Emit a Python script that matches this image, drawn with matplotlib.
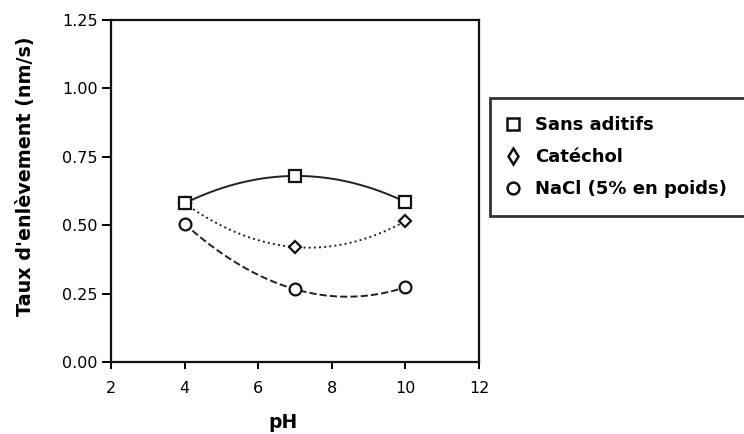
import numpy as np
from matplotlib import pyplot as plt
from matplotlib.lines import Line2D

# Taux d'enlevement en fonction du pH, pour trois solutions
ph = [4, 7, 10]
sans_aditifs = [0.58, 0.68, 0.585]
catechol = [0.58, 0.42, 0.515]
nacl = [0.505, 0.266, 0.273]

labels = ['Sans aditifs', 'Catéchol', 'NaCl (5% en poids)']
markers = ['s', 'D', 'o']
sizes = [8.5, 6, 8.5]
styles = ['-', ':', '--']
series = [sans_aditifs, catechol, nacl]

plt.rcParams['font.family'] = 'DejaVu Sans'

fig = plt.figure(figsize=(7.44, 4.34), dpi=100)
ax = fig.add_axes([111/744, 1 - 362/434, 368/744, 342/434])

xs = np.linspace(4, 10, 200)
# draw in reverse so the squares sit on top at pH 4
for i in [2, 1, 0]:
    y = series[i]
    coef = np.polyfit(ph, y, 2)
    ax.plot(xs, np.polyval(coef, xs), color='#222222', lw=1.4,
            ls=styles[i], zorder=2 + i * 0.1)
    ax.plot(ph, y, ls='none', marker=markers[i], ms=sizes[i],
            mfc='white', mec='#111111', mew=1.6, zorder=4 - i * 0.1)

ax.set_xlim(2, 12)
ax.set_ylim(0, 1.25)
ax.set_xticks([2, 4, 6, 8, 10, 12])
ax.set_yticks([0, 0.25, 0.5, 0.75, 1.0, 1.25])
ax.set_yticklabels(['0.00', '0.25', '0.50', '0.75', '1.00', '1.25'])
ax.tick_params(axis='y', length=6.5, width=1.4, pad=3, labelsize=11.5)
ax.tick_params(axis='x', length=5, width=1.4, pad=9, labelsize=11.5)
for s in ax.spines.values():
    s.set_linewidth(1.6)
    s.set_color('#111111')

ax.set_xlabel('pH', fontsize=13.5, fontweight='bold')
ax.set_ylabel("Taux d'enlèvement (nm/s)", fontsize=13.8, fontweight='bold')
ax.xaxis.set_label_coords(0.467, -0.150)
ax.yaxis.set_label_coords(-0.207, 0.544)

# legend uses a thin diamond, a bit taller than in the plot
leg_markers = ['s', 'd', 'o']
leg_sizes = [8.5, 8, 8.5]
handles = [Line2D([], [], ls='none', marker=leg_markers[i], ms=leg_sizes[i],
                  mfc='white', mec='#111111', mew=1.8) for i in range(3)]
leg = fig.legend(handles, labels, loc='upper left',
                 bbox_to_anchor=(490/744, 1 - 98/434), bbox_transform=fig.transFigure,
                 prop={'weight': 'bold', 'size': 13}, frameon=True, fancybox=False,
                 borderpad=1.0, labelspacing=0.78, handlelength=0.5,
                 handletextpad=1.0, borderaxespad=0)
leg.get_frame().set_edgecolor('black')
leg.get_frame().set_linewidth(2)

fig.savefig('out.png', dpi=100)
